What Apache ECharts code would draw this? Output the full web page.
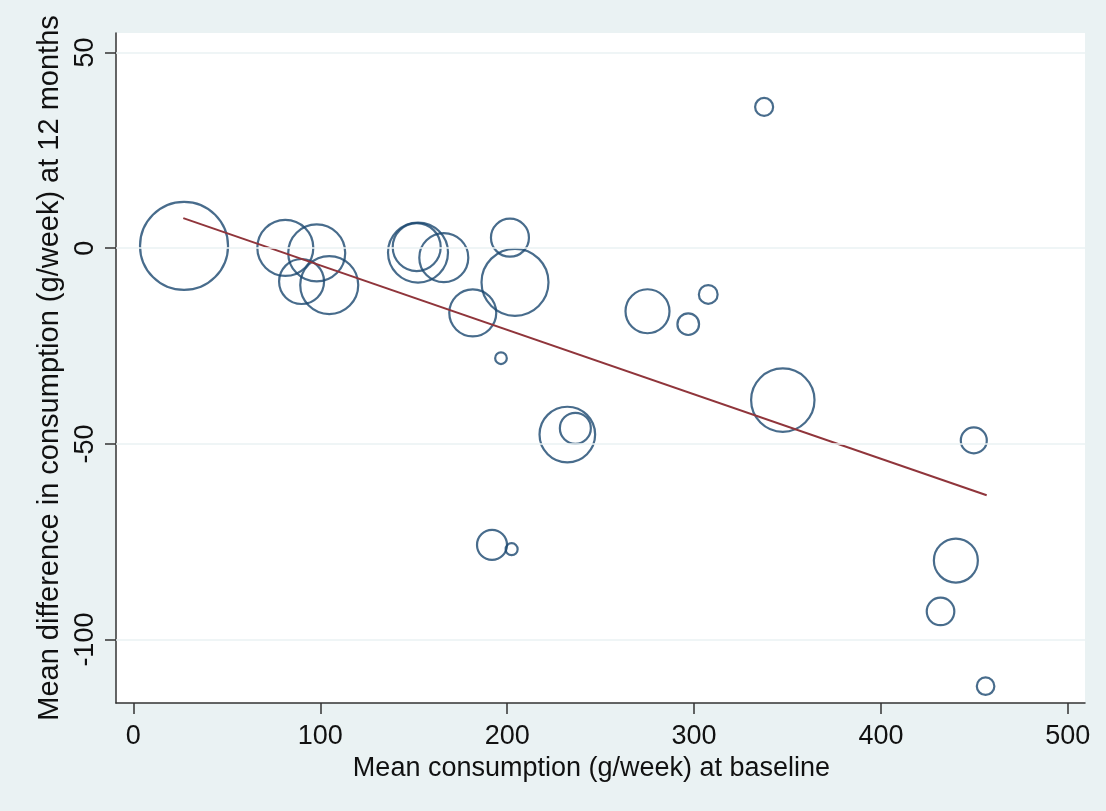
<!DOCTYPE html>
<html>
<head>
<meta charset="utf-8">
<script src="https://cdn.jsdelivr.net/npm/echarts@6/dist/echarts.min.js"></script>
<style>
  html, body { margin: 0; padding: 0; background: #eaf2f3; }
  #chart { width: 1106px; height: 811px; }
</style>
</head>
<body>
<div id="chart"></div>
<script>
// Baseline mean consumption (g/week)
const baseline = [27.1, 81.3, 98.1, 90.0, 104.8, 152.3, 151.6, 166.1, 201.5, 204.2,
                  181.6, 196.7, 275.1, 296.9, 307.6, 232.2, 236.5, 347.5, 337.5,
                  449.7, 440.1, 431.9, 456.0, 191.9, 202.4];
// Mean difference at 12 months (g/week)
const difference = [0.6, 0.1, -1.2, -8.5, -9.4, -1.1, 0.3, -2.4, 2.7, -8.7,
                    -16.5, -28.1, -16.1, -19.4, -11.8, -47.6, -46.0, -38.8, 36.1,
                    -49.1, -79.8, -92.8, -111.9, -75.8, -76.9];
// Study weights (bubble area proportional to weight)
const weight = [1936, 784, 812, 506, 841, 900, 576, 600, 361, 1122,
                552, 34, 484, 117, 88, 773, 240, 1005, 81,
                169, 484, 190, 77, 225, 36];
// Fitted regression line endpoints
const fitX = [26.7, 456.6];
const fitY = [7.7, -63.1];
// Tick labels
const xTicks = [0, 100, 200, 300, 400, 500];
const yTicks = [-100, -50, 0, 50];

const bubbles = baseline.map((x, i) => [x, difference[i], weight[i]]);
const fitLine = fitX.map((x, i) => [x, fitY[i]]);

const chart = echarts.init(document.getElementById('chart'), null, { renderer: 'canvas' });
const FONT = 'Liberation Sans, Arial, sans-serif';
const axisColor = '#333';

chart.setOption({
  backgroundColor: '#eaf2f3',
  animation: false,
  grid: {
    left: 116, right: 21, top: 33, bottom: 108,
    show: true, backgroundColor: '#ffffff', borderWidth: 0
  },
  xAxis: {
    type: 'value',
    min: -9.3, max: 509.2,
    name: 'Mean consumption (g/week) at baseline',
    nameLocation: 'middle',
    nameGap: 46,
    nameTextStyle: { fontFamily: FONT, fontSize: 27, color: '#111', padding: [0, 18, 0, 0] },
    axisLine: { show: true, onZero: false, lineStyle: { color: axisColor, width: 1.5 } },
    axisTick: { show: true, length: 11, customValues: xTicks, lineStyle: { color: axisColor, width: 1.5 } },
    axisLabel: { customValues: xTicks, margin: 20, fontFamily: FONT, fontSize: 27, color: '#111' },
    splitLine: { show: false }
  },
  yAxis: {
    type: 'value',
    min: -116.2, max: 55,
    name: 'Mean difference in consumption (g/week) at 12 months',
    nameLocation: 'middle',
    nameGap: 52,
    nameTextStyle: { fontFamily: FONT, fontSize: 29, color: '#111' },
    axisLine: { show: true, onZero: false, lineStyle: { color: axisColor, width: 1.5 } },
    axisTick: { show: true, length: 11, customValues: yTicks, lineStyle: { color: axisColor, width: 1.5 } },
    axisLabel: { customValues: yTicks, rotate: 90, margin: 17, fontFamily: FONT, fontSize: 27, color: '#111' },
    splitLine: { show: false }
  },
  series: [
    {
      type: 'line',
      data: [],
      silent: true,
      markLine: {
        silent: true,
        symbol: 'none',
        label: { show: false },
        lineStyle: { color: '#eaf2f3', width: 1.5, type: 'solid' },
        data: yTicks.map(v => ({ yAxis: v }))
      },
      z: 1
    },
    {
      type: 'scatter',
      data: bubbles,
      symbol: 'circle',
      symbolSize: d => 2 * Math.sqrt(d[2]),
      itemStyle: { color: 'rgba(0,0,0,0)', borderColor: '#1a476f', borderWidth: 2.2 },
      z: 3
    },
    {
      type: 'line',
      data: fitLine,
      symbol: 'none',
      lineStyle: { color: '#90353b', width: 2 },
      itemStyle: { color: '#90353b' },
      z: 4
    }
  ]
});
</script>
</body>
</html>
